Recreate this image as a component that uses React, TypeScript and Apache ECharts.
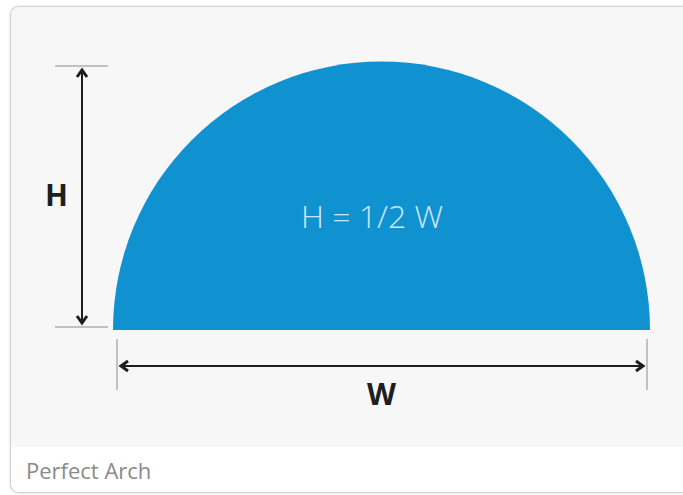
import React, { useEffect, useRef } from "react";
import * as echarts from "echarts";

const archSlices = ["arch", "empty"];
const archValues = [1, 1];
const formulaText = "H = 1/2 W";
const heightLabel = "H";
const widthLabel = "W";
const captionText = "Perfect Arch";

export default function App() {
  const ref = useRef<HTMLDivElement>(null);
  useEffect(() => {
    if (!ref.current) return;
    const chart = echarts.init(ref.current, undefined, { renderer: "svg" });
    const cx = 381.5;
    const cy = 330;
    const r = 268.5;
    const dark = "#1e1e1e";
    const tick = "#b0b0b0";
    chart.setOption({
      animation: false,
      backgroundColor: "#ffffff",
      graphic: [
        {
          type: "rect",
          z: 0,
          shape: { x: 10.5, y: 6.5, width: 720, height: 486, r: 8 },
          style: { fill: "#f7f7f7", stroke: "#d4d4d4", lineWidth: 1.2, shadowBlur: 3, shadowColor: "rgba(0,0,0,0.12)" },
        },
        {
          type: "rect",
          z: 1,
          shape: { x: 11.2, y: 447, width: 720, height: 45, r: [0, 0, 8, 8] },
          style: { fill: "#ffffff" },
        },
        {
          type: "text",
          z: 2,
          style: { x: 26, y: 470, text: captionText, fill: "#8a8a8a", font: "400 22px 'Open Sans'", verticalAlign: "middle" },
        },
        // height dimension
        { type: "line", z: 2, shape: { x1: 55, y1: 66, x2: 108, y2: 66 }, style: { stroke: tick, lineWidth: 1.5 } },
        { type: "line", z: 2, shape: { x1: 55, y1: 327, x2: 108, y2: 327 }, style: { stroke: tick, lineWidth: 1.5 } },
        { type: "line", z: 3, shape: { x1: 82, y1: 69, x2: 82, y2: 324 }, style: { stroke: dark, lineWidth: 2 } },
        { type: "polyline", z: 3, shape: { points: [[77, 77], [82, 70], [87, 77]] }, style: { stroke: dark, lineWidth: 3, fill: "none" } },
        { type: "polyline", z: 3, shape: { points: [[77, 316], [82, 323], [87, 316]] }, style: { stroke: dark, lineWidth: 3, fill: "none" } },
        {
          type: "text",
          z: 3,
          style: { x: 56.5, y: 194, text: heightLabel, fill: dark, font: "700 30px 'Open Sans'", align: "center", verticalAlign: "middle" },
        },
        // width dimension
        { type: "line", z: 2, shape: { x1: 117, y1: 339, x2: 117, y2: 390 }, style: { stroke: tick, lineWidth: 1.5 } },
        { type: "line", z: 2, shape: { x1: 647, y1: 339, x2: 647, y2: 390 }, style: { stroke: tick, lineWidth: 1.5 } },
        { type: "line", z: 3, shape: { x1: 120, y1: 366, x2: 644, y2: 366 }, style: { stroke: dark, lineWidth: 2 } },
        { type: "polyline", z: 3, shape: { points: [[128, 361], [121, 366], [128, 371]] }, style: { stroke: dark, lineWidth: 3, fill: "none" } },
        { type: "polyline", z: 3, shape: { points: [[636, 361], [643, 366], [636, 371]] }, style: { stroke: dark, lineWidth: 3, fill: "none" } },
        {
          type: "text",
          z: 3,
          style: { x: 381.5, y: 393, text: widthLabel, fill: dark, font: "700 30px 'Open Sans'", align: "center", verticalAlign: "middle" },
        },
        {
          type: "text",
          z: 10,
          style: { x: 372, y: 215, text: formulaText, fill: "rgba(228,242,251,0.9)", font: "300 32px 'Open Sans'", align: "center", verticalAlign: "middle" },
        },
      ],
      series: [
        {
          type: "pie",
          z: 5,
          center: [cx, cy],
          radius: [0, r],
          startAngle: 180,
          clockwise: true,
          silent: true,
          label: { show: false },
          labelLine: { show: false },
          emphasis: { disabled: true },
          data: archSlices.map((name, i) => ({
            name,
            value: archValues[i],
            itemStyle: { color: i === 0 ? "#1192d0" : "rgba(0,0,0,0)", borderWidth: 0 },
          })),
        },
      ],
    });
    return () => chart.dispose();
  }, []);
  return <div ref={ref} style={{ position: "fixed", left: 0, top: 0, width: 683, height: 495 }} />;
}
